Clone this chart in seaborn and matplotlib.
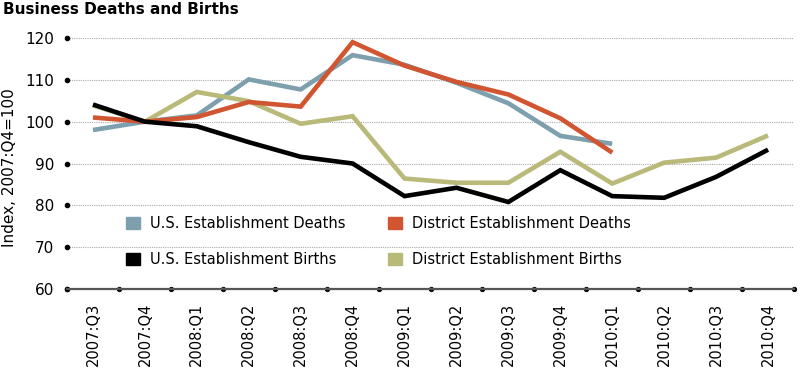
import pandas as pd
import numpy as np
import seaborn as sns
import matplotlib.pyplot as plt
from matplotlib.patches import Patch

quarters = ['2007:Q3', '2007:Q4', '2008:Q1', '2008:Q2', '2008:Q3', '2008:Q4', '2009:Q1',
            '2009:Q2', '2009:Q3', '2009:Q4', '2010:Q1', '2010:Q2', '2010:Q3', '2010:Q4']
us_deaths = [98.0, 100.0, 101.5, 110.1, 107.7, 115.9, 113.6, 109.3, 104.4, 96.6, 94.7,
             np.nan, np.nan, np.nan]
district_deaths = [101.0, 100.0, 101.1, 104.7, 103.6, 119.0, 113.4, 109.5, 106.5, 100.8, 92.6,
                   np.nan, np.nan, np.nan]
us_births = [104.1, 100.0, 98.9, 95.1, 91.6, 90.0, 82.2, 84.2, 80.8, 88.4, 82.2, 81.8, 86.8, 93.3]
district_births = [103.9, 100.0, 107.1, 104.9, 99.5, 101.3, 86.4, 85.4, 85.4, 92.8, 85.2, 90.2,
                   91.4, 96.7]

names = ['U.S. Establishment Deaths', 'District Establishment Deaths',
         'U.S. Establishment Births', 'District Establishment Births']
colors = {'U.S. Establishment Deaths': '#7d9fae',
          'District Establishment Deaths': '#d05530',
          'U.S. Establishment Births': '#000000',
          'District Establishment Births': '#b9b97a'}

rows = []
for name, vals in zip(names, [us_deaths, district_deaths, us_births, district_births]):
    for i, v in enumerate(vals):
        rows.append({'pos': i, 'value': v, 'series': name})
df = pd.DataFrame(rows).dropna()

sns.set_style('white')
plt.rcParams['font.family'] = ['DejaVu Sans']
plt.rcParams['text.color'] = 'black'
plt.rcParams['xtick.color'] = 'black'
plt.rcParams['ytick.color'] = 'black'
plt.rcParams['xtick.labelcolor'] = 'black'
plt.rcParams['ytick.labelcolor'] = 'black'

fig = plt.figure(figsize=(8, 3.77), dpi=100)
ax = fig.add_axes([67 / 800, 1 - 289 / 377, 727 / 800, 251 / 377])

# draw order: blue, khaki, red, black
draw_order = ['U.S. Establishment Deaths', 'District Establishment Births',
              'District Establishment Deaths', 'U.S. Establishment Births']
sns.lineplot(data=df, x='pos', y='value', hue='series', hue_order=draw_order,
             palette=colors, linewidth=3.3, ax=ax, legend=False, sort=False)
for line in ax.get_lines():
    line.set_solid_joinstyle('miter')
    line.set_solid_capstyle('butt')

ax.set_xlim(-0.5, 13.5)
ax.set_ylim(60, 120)
ax.set_yticks(range(60, 121, 10))
ax.yaxis.grid(True, linestyle=(0, (1, 1)), color='#aaaaaa', linewidth=0.8)
ax.set_axisbelow(True)
for s in ['top', 'right', 'left']:
    ax.spines[s].set_visible(False)
ax.spines['bottom'].set_color('#555555')
ax.spines['bottom'].set_linewidth(1.6)
ax.spines['bottom'].set_zorder(5)

ax.set_xticks(range(len(quarters)))
ax.set_xticklabels(quarters, rotation=90, fontsize=10.5)
ax.set_xticks(np.arange(-0.5, 14, 1), minor=True)
ax.tick_params(axis='x', which='major', length=0, pad=10, bottom=False)
ax.tick_params(axis='x', which='minor', bottom=True, length=1)
ax.tick_params(axis='y', which='major', left=True, length=1, labelsize=11, pad=8)
ax.set_xlabel('')
ax.set_ylabel('')

for t in ax.yaxis.get_major_ticks():
    t.tick1line.set_marker('o')
    t.tick1line.set_markersize(3.2)
    t.tick1line.set_markerfacecolor('black')
    t.tick1line.set_markeredgecolor('black')
for t in ax.xaxis.get_minor_ticks():
    t.tick1line.set_marker('o')
    t.tick1line.set_markersize(3.2)
    t.tick1line.set_markerfacecolor('black')
    t.tick1line.set_markeredgecolor('black')
    t.tick1line.set_zorder(6)

handles = [Patch(color=colors[n], label=n) for n in
           ['U.S. Establishment Deaths', 'U.S. Establishment Births',
            'District Establishment Deaths', 'District Establishment Births']]
leg = fig.legend(handles=handles, ncol=2, loc='upper left',
                 bbox_to_anchor=(126 / 800, 1 - 216 / 377), frameon=False,
                 fontsize=10.5, handlelength=0.95, handleheight=0.95,
                 handletextpad=0.7, columnspacing=2.9, labelspacing=1.45,
                 borderpad=0, borderaxespad=0)

fig.text(3 / 800, 1 - 2 / 377, 'Business Deaths and Births', fontsize=11,
         fontweight='bold', va='top', ha='left')
fig.text(10 / 800, 1 - 168 / 377, 'Index, 2007:Q4=100', fontsize=11,
         rotation=90, va='center', ha='center')

fig.savefig('out.png', dpi=100)
